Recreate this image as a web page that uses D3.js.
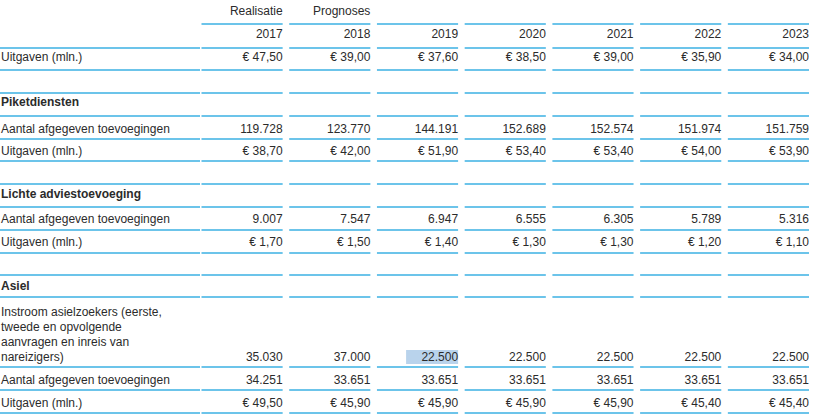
<!DOCTYPE html>
<html><head><meta charset="utf-8">
<script src="https://cdn.jsdelivr.net/npm/d3@7"></script>
<style>body{margin:0;background:#fff}text{font-family:"Liberation Sans",Arial,sans-serif;font-size:12px;fill:#2b2b2b}</style>
</head><body><svg id="c" width="820" height="417"></svg>
<script>
const years = ["2017","2018","2019","2020","2021","2022","2023"];
const totaalUitgaven = ["€ 47,50","€ 39,00","€ 37,60","€ 38,50","€ 39,00","€ 35,90","€ 34,00"];
const piketAantal = ["119.728","123.770","144.191","152.689","152.574","151.974","151.759"];
const piketUitgaven = ["€ 38,70","€ 42,00","€ 51,90","€ 53,40","€ 53,40","€ 54,00","€ 53,90"];
const lichteAantal = ["9.007","7.547","6.947","6.555","6.305","5.789","5.316"];
const lichteUitgaven = ["€ 1,70","€ 1,50","€ 1,40","€ 1,30","€ 1,30","€ 1,20","€ 1,10"];
const asielInstroom = ["35.030","37.000","22.500","22.500","22.500","22.500","22.500"];
const asielAantal = ["34.251","33.651","33.651","33.651","33.651","33.651","33.651"];
const asielUitgaven = ["€ 49,50","€ 45,90","€ 45,90","€ 45,90","€ 45,90","€ 45,40","€ 45,40"];

// rows: text baseline y, line y after, label lines
const rows = [
  {y:38, line:48, label:[], vals:years},
  {y:61, line:70, label:["Uitgaven (mln.)"], vals:totaalUitgaven},
  {y:null, line:93},
  {y:106, line:116, label:["Piketdiensten"], bold:true},
  {y:133, line:139, label:["Aantal afgegeven toevoegingen"], vals:piketAantal},
  {y:155, line:161, label:["Uitgaven (mln.)"], vals:piketUitgaven},
  {y:null, line:184},
  {y:198, line:207, label:["Lichte adviestoevoeging"], bold:true},
  {y:223, line:230, label:["Aantal afgegeven toevoegingen"], vals:lichteAantal},
  {y:246, line:253, label:["Uitgaven (mln.)"], vals:lichteUitgaven},
  {y:null, line:275},
  {y:290, line:297, label:["Asiel"], bold:true},
  {y:361, line:367, label:["Instroom asielzoekers (eerste,","tweede en opvolgende","aanvragen en inreis van","nareizigers)"], vals:asielInstroom},
  {y:384, line:390, label:["Aantal afgegeven toevoegingen"], vals:asielAantal},
  {y:407, line:413, label:["Uitgaven (mln.)"], vals:asielUitgaven}
];

const svg = d3.select("#c");
const x = d3.scaleBand().domain(years).range([201.5, 809]).paddingInner(0.075).paddingOuter(0);
const blue = "#6cc4ea";

function hline(y, full) {
  if (full) svg.append("line").attr("x1",0).attr("x2",200).attr("y1",y).attr("y2",y).attr("stroke",blue).attr("stroke-width",2);
  years.forEach(yr => svg.append("line").attr("x1",x(yr)).attr("x2",x(yr)+x.bandwidth()).attr("y1",y).attr("y2",y).attr("stroke",blue).attr("stroke-width",2));
}

// header
svg.append("text").attr("x",x("2017")+x.bandwidth()).attr("y",15).attr("text-anchor","end").text("Realisatie");
svg.append("text").attr("x",x("2018")+x.bandwidth()).attr("y",15).attr("text-anchor","end").text("Prognoses");
hline(24, false);

// highlight
svg.append("rect").attr("x",x("2019")+x.bandwidth()-52).attr("y",350).attr("width",52).attr("height",14).attr("fill","#b9d3ec");

rows.forEach(r => {
  if (r.label) r.label.forEach((l,i) => svg.append("text").attr("x",1)
    .attr("y", r.y - (r.label.length-1-i)*15).style("font-weight", r.bold ? "bold" : null).text(l));
  if (r.vals) r.vals.forEach((v,i) => svg.append("text").attr("x",x(years[i])+x.bandwidth())
    .attr("y",r.y).attr("text-anchor","end").text(v));
  hline(r.line, true);
});
</script></body></html>
